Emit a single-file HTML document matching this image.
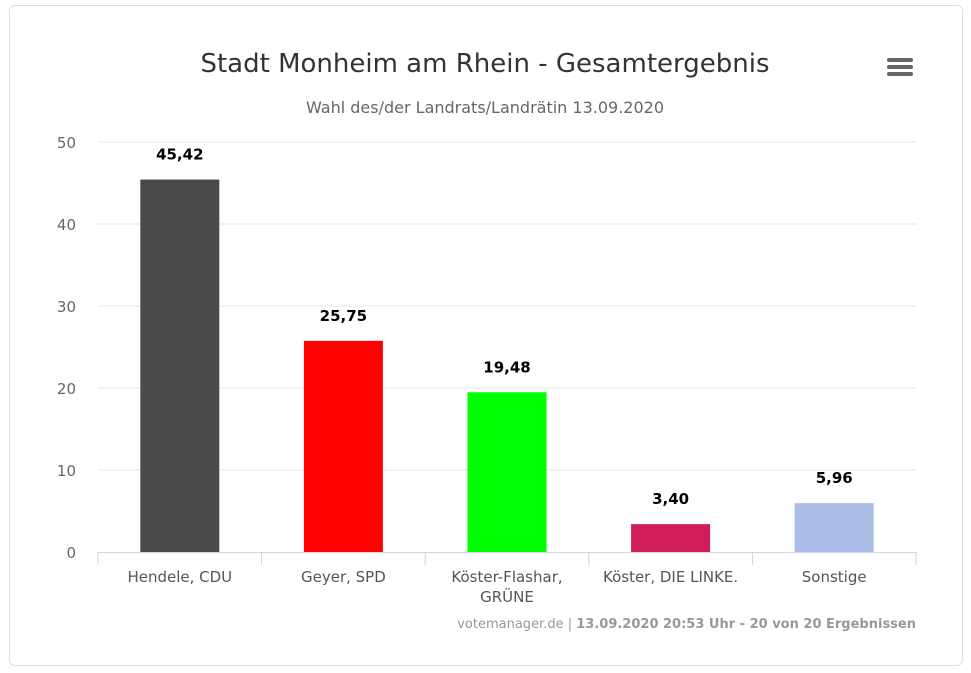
<!DOCTYPE html>
<html><head><meta charset="utf-8"><style>
body{margin:0;background:#fff;font-family:"DejaVu Sans","Liberation Sans",sans-serif;}
#wrap{position:relative;width:971px;height:673px;}
#box{position:absolute;left:9px;top:5px;width:952px;height:659px;border:1px solid #ddd;border-radius:6px;}
</style></head><body>
<div id="wrap">
<div id="box"></div>
<svg id="svg" width="971" height="673" style="position:absolute;left:0;top:0">
<text x="485" y="72" text-anchor="middle" font-size="26" fill="#333">Stadt Monheim am Rhein - Gesamtergebnis</text>
<text x="485" y="113" text-anchor="middle" font-size="16" fill="#666">Wahl des/der Landrats/Landrätin 13.09.2020</text>
<g>
<rect x="887" y="58" width="26" height="4" rx="2" fill="#666"/>
<rect x="887" y="65" width="26" height="4" rx="2" fill="#666"/>
<rect x="887" y="72" width="26" height="4" rx="2" fill="#666"/>
</g>
<g id="grid"></g><g id="bars"></g><g id="xaxis"></g>
<text x="916" y="628" text-anchor="end" font-size="13" fill="#999">votemanager.de | <tspan font-weight="bold">13.09.2020 20:53 Uhr - 20 von 20 Ergebnissen</tspan></text>
</svg>
</div>
<script>
const categories=[["Hendele, CDU"],["Geyer, SPD"],["Köster-Flashar,","GRÜNE"],["Köster, DIE LINKE."],["Sonstige"]];
const values=[45.42,25.75,19.48,3.40,5.96];
const labels=["45,42","25,75","19,48","3,40","5,96"];
const colors=["#4a4a4a","#ff0000","#00ff00","#d01c58","#a9bde6"];
const yTicks=[0,10,20,30,40,50];
const NS="http://www.w3.org/2000/svg";
const L=98,R=916,T=142,B=552,yMax=50;
const y=v=>B-(v/yMax)*(B-T);
const cw=(R-L)/categories.length;
const x=i=>L+cw*i;
function mk(tag,attrs,parent){const e=document.createElementNS(NS,tag);for(const k in attrs)e.setAttribute(k,attrs[k]);parent.appendChild(e);return e;}
const grid=document.getElementById('grid'),bars=document.getElementById('bars'),xa=document.getElementById('xaxis');
yTicks.forEach(t=>{
 if(t>0){const g=mk('line',{x1:L,x2:R,y1:y(t),y2:y(t),stroke:'#e6e6e6'},grid);
 
 }
 const tx=mk('text',{x:76,y:y(t)+6,'text-anchor':'end','font-size':15,fill:'#666'},grid);
 tx.textContent=t;
 
 
});
const ax=mk('line',{x1:L,x2:R,y1:B+0.5,y2:B+0.5,stroke:'#ccd6eb'},xa);


for(let i=0;i<=categories.length;i++){
 const tk=mk('line',{x1:x(i),x2:x(i),y1:B,y2:B+13,stroke:'#ccd6eb'},xa);
 
 
}
categories.forEach((c,i)=>{
 const cx=x(i)+cw/2,bw=79;
 const r=mk('rect',{x:cx-bw/2,y:y(values[i]),width:bw,height:B-y(values[i]),fill:colors[i]},bars);
 
 
 const lb=mk('text',{x:cx,y:y(values[i])-20,'text-anchor':'middle','font-size':15,'font-weight':'bold',fill:'#000'},bars);
 lb.textContent=labels[i];
 
 
 const xl=mk('text',{x:cx,y:B+30,'text-anchor':'middle','font-size':15,fill:'#555'},xa);
 c.forEach((line,j)=>{const ts=mk('tspan',{x:cx,dy:j?20:0},xl);ts.textContent=line;});
 
 
});
</script>
</body></html>
